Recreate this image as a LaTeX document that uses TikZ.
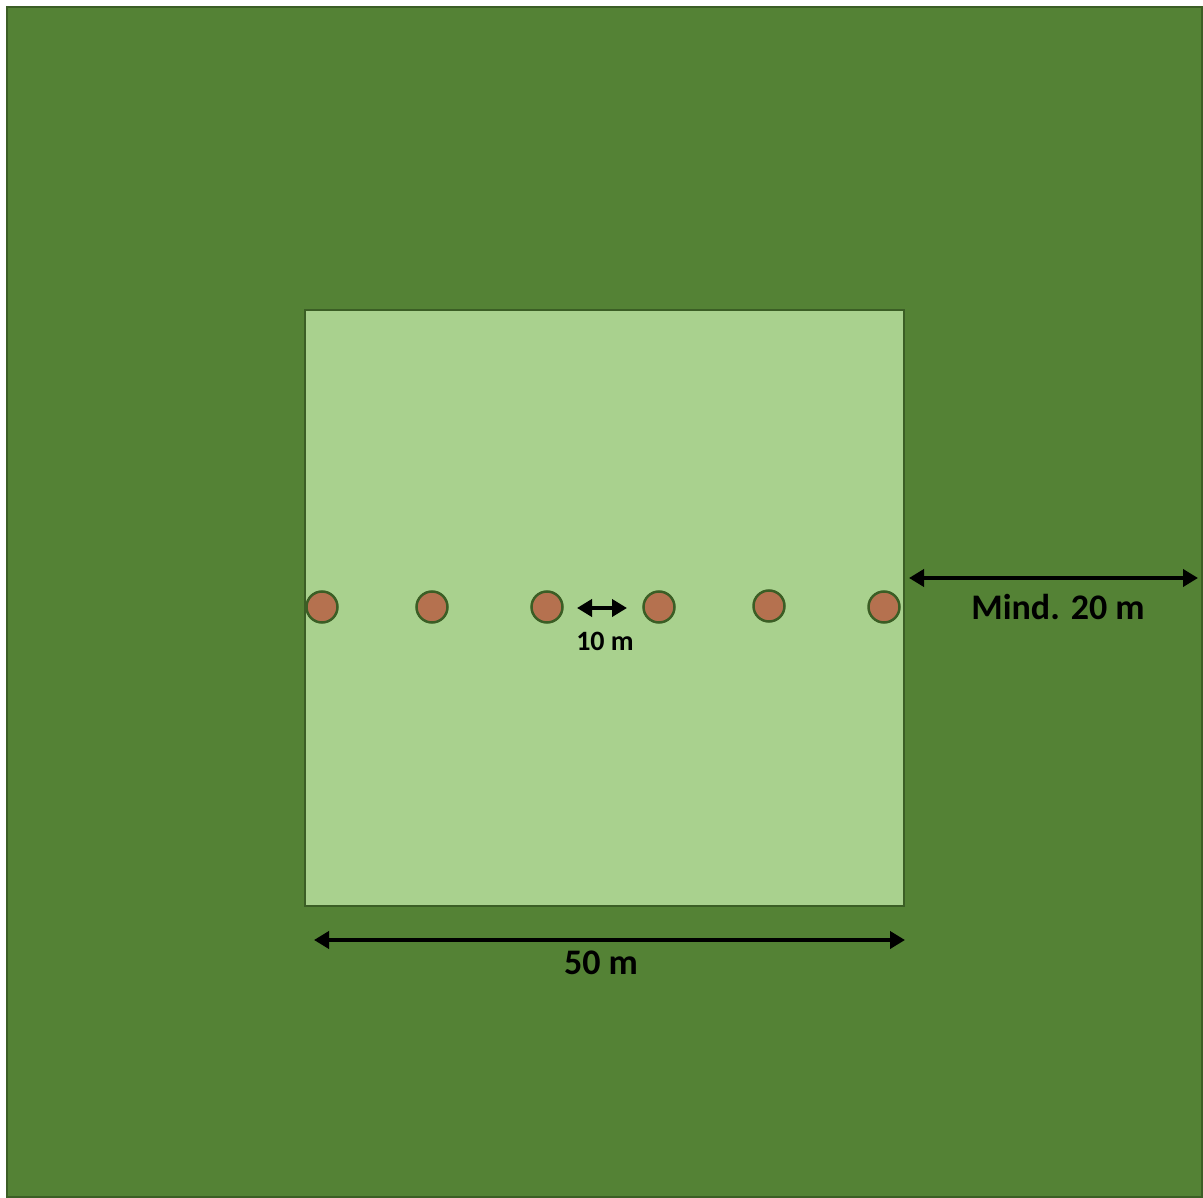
\documentclass[tikz,border=0pt]{standalone}
\usepackage{fontspec}
\setmainfont{Carlito}
\usetikzlibrary{arrows.meta}
\definecolor{feld}{HTML}{548235}
\definecolor{flaeche}{HTML}{A9D18E}
\definecolor{rand}{HTML}{3B5E25}
\definecolor{baum}{HTML}{B5714F}
\tikzset{
  baum/.style={circle,draw=rand,line width=2.5pt,fill=baum,minimum size=31pt,inner sep=0pt},
  mass/.style={line width=4pt,{Triangle[length=15pt,width=17pt]}-{Triangle[length=15pt,width=17pt]}},
  beschr/.style={font=\bfseries,text=black}
}
\begin{document}
\begin{tikzpicture}[x=1pt,y=-1pt]
  \useasboundingbox (0,0) rectangle (1203,1198);
  \fill[white] (0,0) rectangle (1203,1198);
  \draw[fill=feld,draw=rand,line width=2pt] (7,7) rectangle (1202,1197);
  \draw[fill=flaeche,draw=rand,line width=2.5pt] (305,310) rectangle (904,906);
  \node[baum] (t1) at (322,607) {};
  \node[baum] (t2) at (432,607) {};
  \node[baum] (t3) at (547,607) {};
  \node[baum] (t4) at (659,607) {};
  \node[baum] (t5) at (769,606) {};
  \node[baum] (t6) at (884,607) {};
  \coordinate (a1) at (577,608);
  \coordinate (a2) at (627,608);
  \coordinate (b1) at (909,578);
  \coordinate (b2) at (1198,578);
  \coordinate (c1) at (314,940);
  \coordinate (c2) at (905,940);
  \draw[mass] (a1) -- (a2);
  \draw[mass] (b1) -- (b2);
  \draw[mass] (c1) -- (c2);
  \node[beschr,font=\fontsize{28}{32}\selectfont\bfseries] (abstand) at (605,641) {10 m};
  \node[beschr,font=\fontsize{36}{40}\selectfont\bfseries] (rand) at (1058,607) {Mind. 20 m};
  \node[beschr,font=\fontsize{36}{40}\selectfont\bfseries] (breite) at (601,963) {50 m};
\end{tikzpicture}
\end{document}
